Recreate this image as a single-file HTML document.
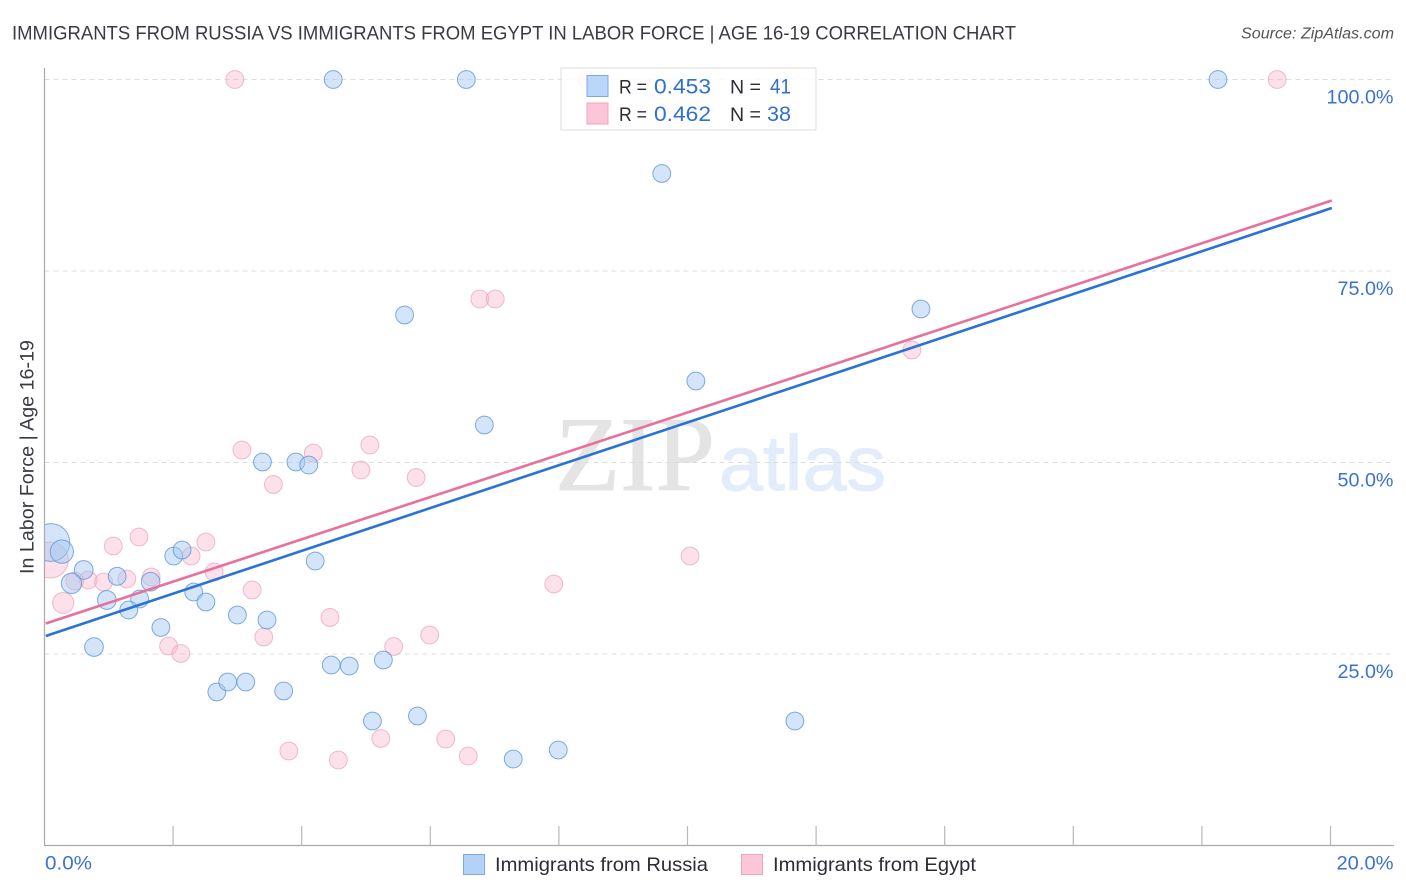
<!DOCTYPE html>
<html lang="en">
<head>
<meta charset="utf-8">
<title>Immigrants from Russia vs Immigrants from Egypt Correlation Chart</title>
<style>
html,body{margin:0;padding:0;background:#fff;}
#chart{display:block;width:1406px;height:892px;font-family:"Liberation Sans",sans-serif;}
</style>
</head>
<body>
<svg id="chart" xmlns="http://www.w3.org/2000/svg" width="1406" height="892" viewBox="0 0 1406 892">
  <text x="12" y="39.5" font-size="19.5" fill="#3a3a42" textLength="1004" lengthAdjust="spacingAndGlyphs">IMMIGRANTS FROM RUSSIA VS IMMIGRANTS FROM EGYPT IN LABOR FORCE | AGE 16-19 CORRELATION CHART</text>
  <text x="1241" y="38.5" font-size="15.5" font-style="italic" fill="#555" textLength="153" lengthAdjust="spacingAndGlyphs">Source: ZipAtlas.com</text>
  <text x="555" y="490" font-family="'Liberation Serif',serif" font-size="106" fill="#e4e4e4" stroke="#e4e4e4" stroke-width="1" textLength="160" lengthAdjust="spacingAndGlyphs">ZIP</text>
  <text x="719" y="490" font-size="78" fill="#e2ecfa" stroke="#e2ecfa" stroke-width="1" textLength="167" lengthAdjust="spacingAndGlyphs">atlas</text>
  <g id="grid"></g>
  <g id="pointsEgypt"></g>
  <g id="pointsRussia"></g>
  <rect x="0" y="60" width="44.5" height="786" fill="#fff"/>
  <g id="axes"></g>
  <g id="trends"></g>
  <g id="yLabels"></g>
  <g id="xLabels"></g>
  <text transform="translate(33.5,457) rotate(-90)" text-anchor="middle" font-size="19" fill="#3a3a42" textLength="234" lengthAdjust="spacingAndGlyphs">In Labor Force | Age 16-19</text>

  <g>
    <rect x="561" y="68" width="255" height="62" fill="#fff" fill-opacity="0.86" stroke="#dcdcdc" stroke-width="1"/>
    <rect x="587" y="75.5" width="21" height="21" fill="#b3d1f9" fill-opacity="0.9" stroke="#7fa9dc" stroke-width="1"/>
    <rect x="587" y="103" width="21" height="21" fill="#fcc5d8" stroke="#eea6bd" stroke-width="1"/>
    <text x="619" y="93.5" font-size="19" fill="#2c2c34" textLength="28" lengthAdjust="spacingAndGlyphs">R =</text>
    <text x="654" y="93.5" font-size="21" fill="#2f6fd0" textLength="57" lengthAdjust="spacingAndGlyphs">0.453</text>
    <text x="730" y="93.5" font-size="19" fill="#2c2c34" textLength="31" lengthAdjust="spacingAndGlyphs">N =</text>
    <text x="770" y="93.5" font-size="21" fill="#2f6fd0" textLength="21" lengthAdjust="spacingAndGlyphs">41</text>
    <text x="619" y="121" font-size="19" fill="#2c2c34" textLength="28" lengthAdjust="spacingAndGlyphs">R =</text>
    <text x="654" y="121" font-size="21" fill="#2f6fd0" textLength="57" lengthAdjust="spacingAndGlyphs">0.462</text>
    <text x="730" y="121" font-size="19" fill="#2c2c34" textLength="31" lengthAdjust="spacingAndGlyphs">N =</text>
    <text x="767" y="121" font-size="21" fill="#2f6fd0" textLength="24" lengthAdjust="spacingAndGlyphs">38</text>
  </g>

  <g>
    <rect x="463.5" y="854.5" width="21" height="20" fill="#b3d1f9" stroke="#7fa9dc" stroke-width="1"/>
    <text x="495" y="871" font-size="19.5" fill="#2c2c34" textLength="213" lengthAdjust="spacingAndGlyphs">Immigrants from Russia</text>
  </g>
  <g>
    <rect x="741.5" y="854.5" width="21" height="20" fill="#fcc5d8" stroke="#eea6bd" stroke-width="1"/>
    <text x="773" y="871" font-size="19.5" fill="#2c2c34" textLength="203" lengthAdjust="spacingAndGlyphs">Immigrants from Egypt</text>
  </g>
</svg>
<script>
// Chart data (percent values)
const russiaX = [0.10,0.27,0.61,0.42,1.13,1.65,0.97,1.48,1.31,0.77,1.81,2.01,2.14,2.32,2.51,3.00,3.46,2.68,2.85,3.13,3.72,3.39,3.91,4.11,4.21,4.46,4.74,5.27,5.10,5.80,7.29,7.99,11.67,5.60,6.84,10.13,13.63,9.60,4.49,6.56,18.25];
const russiaY = [39.55,38.36,35.97,34.23,35.14,34.44,32.05,32.18,30.74,25.91,28.46,37.79,38.58,33.09,31.79,30.09,29.44,20.04,21.34,21.34,20.17,50.07,50.07,49.67,37.14,23.56,23.43,24.22,16.25,16.91,11.29,12.47,16.25,69.26,54.90,60.64,70.04,87.73,100,100,100];
const russiaWeight = [4.5,1.7,1.1,1.3,1,1.1,1.1,1,1,1.1,1,1,1,1,1,1,1,1,1,1,1,1,1,1,1,1,1,1,1,1,1,1,1,1,1,1,1,1,1,1,1];
const egyptX = [0.09,0.29,1.07,1.47,0.68,0.47,0.92,1.28,1.66,2.28,2.51,2.64,3.23,3.41,1.93,2.12,3.07,3.56,4.18,4.92,5.06,5.78,4.44,5.43,5.99,3.80,4.57,5.23,6.24,6.59,7.92,10.04,13.49,6.77,7.01,2.96,8.44,19.17];
const egyptY = [37.27,31.66,39.10,40.27,34.66,34.53,34.40,34.79,35.05,37.79,39.62,35.70,33.36,27.22,26.04,25.07,51.63,47.13,51.24,49.02,52.28,48.04,29.77,25.98,27.48,12.34,11.16,13.97,13.90,11.68,34.14,37.79,64.69,71.34,71.34,100,100,100];
const egyptWeight = [4.1,1.4,1,1,1,1,1,1,1,1,1,1,1,1,1,1,1,1,1,1,1,1,1,1,1,1,1,1,1,1,1,1,1,1,1,1,1,1];
const trendX = [0.02,20.02];
const trendRussia = [27.35,83.22];
const trendEgypt = [28.98,84.20];
const yTickValues = [25,50,75,100];
const xTickValues = [0,2,4,6,8,10,12,14,16,18,20];
const yTickLabels = ['25.0%','50.0%','75.0%','100.0%'];
const xEndLabels = ['0.0%','20.0%'];

const NS = 'http://www.w3.org/2000/svg';
function xScale(v){ return 44.5 + v * 64.3; }
function yScale(v){ return 845.5 - v * 7.66; }
function rScale(w){ return 8.9 * Math.sqrt(w); }
function make(tag, attrs, parent){
  const el = document.createElementNS(NS, tag);
  for (const k in attrs) el.setAttribute(k, attrs[k]);
  parent.appendChild(el);
  return el;
}
const grid = document.getElementById('grid');
const axes = document.getElementById('axes');
const yLabels = document.getElementById('yLabels');
const xLabels = document.getElementById('xLabels');

yTickValues.forEach(function(v, i){
  const line = make('line', {x1:44.5, x2:1394, y1:yScale(v), y2:yScale(v), stroke:'#dcdcdc', 'stroke-width':1, 'stroke-dasharray':'5 4'}, grid);
  
  
  const label = make('text', {x:1393.5, y:yScale(v) + 24, 'text-anchor':'end', 'font-size':19.5, fill:'#3a72d2', textLength:String(yTickLabels[i]).length === 6 ? 67 : 56, lengthAdjust:'spacingAndGlyphs'}, yLabels);
  label.textContent = yTickLabels[i];
  
  
});

const yAxisLine = make('line', {x1:44.5, x2:44.5, y1:68, y2:846, stroke:'#aaaaaa', 'stroke-width':1.2}, axes);


const xAxisLine = make('line', {x1:44, x2:1394, y1:845.5, y2:845.5, stroke:'#aaaaaa', 'stroke-width':1.2}, axes);


xTickValues.forEach(function(v){
  if (v === 0) return;
  const tick = make('line', {x1:xScale(v), x2:xScale(v), y1:826, y2:845.5, stroke:'#b8b8b8', 'stroke-width':1.2}, axes);
  
  
});

const xStart = make('text', {x:45, y:869.5, 'font-size':19.5, fill:'#3a72d2', textLength:47, lengthAdjust:'spacingAndGlyphs'}, xLabels);
xStart.textContent = xEndLabels[0];


const xEnd = make('text', {x:1393.5, y:869.5, 'text-anchor':'end', 'font-size':19.5, fill:'#3a72d2', textLength:57, lengthAdjust:'spacingAndGlyphs'}, xLabels);
xEnd.textContent = xEndLabels[1];



const egyptGroup = document.getElementById('pointsEgypt');
egyptX.forEach(function(v, i){
  const c = make('circle', {cx:xScale(v), cy:yScale(egyptY[i]), r:rScale(egyptWeight[i]), fill:'#f9b8cd', 'fill-opacity':0.42, stroke:'#eda3bb', 'stroke-opacity':0.75, 'stroke-width':1}, egyptGroup);
  
  
});
const russiaGroup = document.getElementById('pointsRussia');
russiaX.forEach(function(v, i){
  const c = make('circle', {cx:xScale(v), cy:yScale(russiaY[i]), r:rScale(russiaWeight[i]), fill:'#a5c8f3', 'fill-opacity':0.48, stroke:'#5d97da', 'stroke-opacity':0.8, 'stroke-width':1}, russiaGroup);
  
  
});

const trends = document.getElementById('trends');
const lineRussia = make('line', {x1:xScale(trendX[0]), x2:xScale(trendX[1]), y1:yScale(trendRussia[0]), y2:yScale(trendRussia[1]), stroke:'#2a72d6', 'stroke-width':2.6}, trends);


const lineEgypt = make('line', {x1:xScale(trendX[0]), x2:xScale(trendX[1]), y1:yScale(trendEgypt[0]), y2:yScale(trendEgypt[1]), stroke:'#e8709c', 'stroke-width':2.6}, trends);


</script>
</body>
</html>
